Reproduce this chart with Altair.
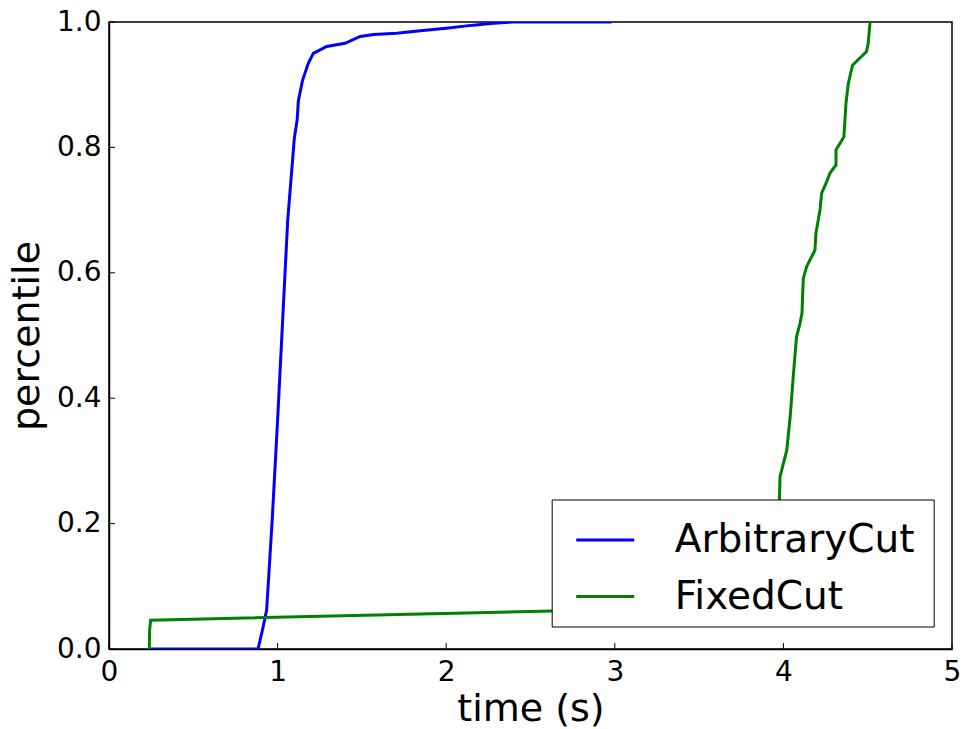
import altair as alt
import pandas as pd

# ArbitraryCut series (time in s, percentile)
arb_x = [0.24, 0.884, 0.896, 0.91, 0.935, 0.968, 1.0, 1.03, 1.06, 1.099, 1.116, 1.123,
         1.148, 1.182, 1.212, 1.291, 1.4, 1.49, 1.57, 1.706, 1.845, 2.0, 2.16, 2.28, 2.4, 2.98]
arb_y = [0.0, 0.0, 0.014, 0.03, 0.062, 0.206, 0.365, 0.525, 0.684, 0.814, 0.844, 0.874,
         0.907, 0.934, 0.950, 0.961, 0.966, 0.977, 0.980, 0.982, 0.986, 0.990, 0.995, 0.998, 1.0, 1.0]

# FixedCut series
fix_x = [0.239, 0.241, 0.247, 2.626, 3.97, 3.976, 3.98, 4.0, 4.02, 4.04, 4.06, 4.078, 4.098,
         4.11, 4.118, 4.138, 4.187, 4.193, 4.217, 4.227, 4.253, 4.276, 4.312, 4.312, 4.359,
         4.371, 4.385, 4.41, 4.493, 4.503, 4.513, 4.515]
fix_y = [0.0, 0.03, 0.046, 0.0606, 0.068, 0.232, 0.275, 0.296, 0.317, 0.37, 0.44, 0.498, 0.519,
         0.535, 0.591, 0.61, 0.636, 0.663, 0.70, 0.727, 0.743, 0.759, 0.772, 0.796, 0.817,
         0.870, 0.902, 0.931, 0.953, 0.966, 0.998, 1.0]

series_names = ["ArbitraryCut", "FixedCut"]
series_colors = ["#0000ff", "#008000"]

x_ticks = [0, 1, 2, 3, 4, 5]
y_ticks = [0.0, 0.2, 0.4, 0.6, 0.8, 1.0]

rows = []
for i, (x, y) in enumerate(zip(arb_x, arb_y)):
    rows.append({"series": "ArbitraryCut", "time": x, "pct": y, "idx": i})
for i, (x, y) in enumerate(zip(fix_x, fix_y)):
    rows.append({"series": "FixedCut", "time": x, "pct": y, "idx": i})
df = pd.DataFrame(rows)

FONT = "DejaVu Sans"
xscale = alt.Scale(domain=[0, 5], nice=False, zero=False)
yscale = alt.Scale(domain=[0, 1], nice=False, zero=False)

lines = alt.Chart(df).mark_line(strokeWidth=3, clip=True).encode(
    x=alt.X("time:Q", scale=xscale,
            axis=alt.Axis(title="time (s)", values=x_ticks, format="d", ticks=False,
                          grid=False, labelPadding=9, titlePadding=4, labelFlush=False,
                          domainColor="black", domainWidth=1.5)),
    y=alt.Y("pct:Q", scale=yscale,
            axis=alt.Axis(title="percentile", values=y_ticks, format=".1f", ticks=False,
                          grid=False, labelPadding=8, titlePadding=10, labelFlush=False,
                          domainColor="black", domainWidth=1.5)),
    color=alt.Color("series:N",
                    scale=alt.Scale(domain=series_names, range=series_colors),
                    legend=alt.Legend(title=".", titleOrient="right", titleColor="white",
                                      titleFontSize=10, titlePadding=6,
                                      orient="none", legendX=442.7, legendY=477.5,
                                      symbolType="stroke", symbolSize=3364,
                                      symbolStrokeWidth=3, labelFontSize=39,
                                      labelFont=FONT, labelOffset=39, padding=10,
                                      symbolOffset=13, labelLimit=0,
                                      rowPadding=5.5, strokeColor="black", fillColor="white",
                                      cornerRadius=0, labelColor="black")),
    order="idx:Q",
)

xt = pd.DataFrame({"v": x_ticks})
yt = pd.DataFrame({"v": y_ticks})
xticks = alt.Chart(xt).mark_rule(color="black", strokeWidth=1).encode(
    x=alt.X("v:Q", scale=xscale), y=alt.value(627), y2=alt.value(621))
yticks = alt.Chart(yt).mark_rule(color="black", strokeWidth=1).encode(
    y=alt.Y("v:Q", scale=yscale), x=alt.value(0), x2=alt.value(6))

chart = alt.layer(lines, xticks, yticks).properties(
    width=843, height=627,
    background="white",
    autosize=alt.AutoSizeParams(type="none"),
    padding={"left": 109, "top": 22, "right": 11, "bottom": 80},
).configure_view(stroke="black", strokeWidth=1.5).configure_axis(
    labelFont=FONT, titleFont=FONT, labelFontSize=28, titleFontSize=38,
    labelColor="black", titleColor="black", titleFontWeight="normal",
)

chart.save("out.html", embed_options={"renderer": "svg", "actions": False})
